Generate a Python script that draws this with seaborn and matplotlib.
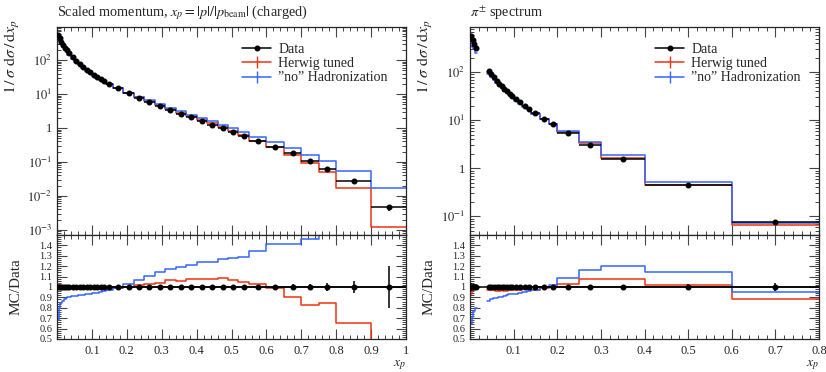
import numpy as np
import matplotlib
matplotlib.use("Agg")
import matplotlib.pyplot as plt
import matplotlib.ticker as mticker
from matplotlib.lines import Line2D
import seaborn as sns

sns.set_style("ticks")
plt.rcParams.update({'font.family': ['Liberation Serif', 'DejaVu Serif'],
                     'mathtext.fontset': 'stix', 'font.size': 10})

RED = '#EE3311'
BLUE = '#3366FF'

# ── Left panel: charged particle scaled momentum ──
ch_edges = [0.0, 0.005, 0.01, 0.015, 0.02, 0.025, 0.03, 0.04, 0.05, 0.06, 0.07, 0.08, 0.09,
            0.10, 0.11, 0.12, 0.13, 0.14, 0.16, 0.19, 0.22, 0.25, 0.28, 0.31, 0.34, 0.37,
            0.40, 0.43, 0.46, 0.49, 0.52, 0.55, 0.60, 0.65, 0.70, 0.75, 0.80, 0.90, 1.00]
ch_data = [540, 440, 350, 285, 235, 198, 158, 120, 94, 76, 62, 52, 44, 37.5, 32, 27.5, 24,
           20, 15, 10.8, 7.9, 5.9, 4.5, 3.4, 2.65, 2.05, 1.62, 1.26, 0.97, 0.76, 0.59,
           0.41, 0.27, 0.182, 0.11, 0.061, 0.0265, 0.0046]
ch_err = [0.02, 0.02, 0.02, 0.02, 0.02, 0.02, 0.02, 0.02, 0.02, 0.02, 0.02, 0.02, 0.02,
          0.02, 0.02, 0.02, 0.02, 0.02, 0.02, 0.02, 0.02, 0.02, 0.02, 0.02, 0.02, 0.02,
          0.02, 0.02, 0.02, 0.02, 0.02, 0.02, 0.02, 0.025, 0.03, 0.035, 0.06, 0.2]
ch_herwig = [1.03, 1.02, 1.01, 1.0, 0.995, 0.99, 0.99, 0.99, 0.985, 0.985, 0.985, 0.985,
             0.985, 0.985, 0.985, 0.985, 0.99, 0.99, 0.99, 1.0, 1.02, 1.025, 1.04, 1.065,
             1.06, 1.075, 1.08, 1.08, 1.09, 1.065, 1.05, 1.03, 0.995, 0.90, 0.83, 0.85,
             0.65, 0.26]
ch_nohad = [0.68, 0.80, 0.85, 0.87, 0.885, 0.89, 0.90, 0.91, 0.915, 0.92, 0.925, 0.93,
            0.935, 0.94, 0.945, 0.95, 0.96, 0.97, 0.99, 1.03, 1.07, 1.11, 1.14, 1.17,
            1.19, 1.21, 1.24, 1.245, 1.27, 1.28, 1.285, 1.35, 1.41, 1.41, 1.46, 1.75,
            1.97, 3.8]

# ── Right panel: pi+- spectrum (two groups of bins with a gap) ──
pi_edges_lo = [0.0, 0.004, 0.008, 0.012, 0.016]
pi_data_lo = [560, 470, 390, 320]
pi_err_lo = [0.04, 0.03, 0.03, 0.03]
pi_herwig_lo = [0.93, 0.96, 0.98, 0.99]
pi_nohad_lo = [0.64, 0.71, 0.77, 0.80]

pi_edges_hi = [0.04, 0.046, 0.052, 0.058, 0.064, 0.070, 0.076, 0.082, 0.088, 0.094, 0.10,
               0.11, 0.12, 0.13, 0.14, 0.16, 0.18, 0.20, 0.25, 0.30, 0.40, 0.60, 0.80]
pi_data_hi = [105, 90, 78, 67, 58, 51, 45, 40, 35.5, 31.5, 27.5, 23.5, 20, 17.5, 14, 10.7,
              8.2, 5.4, 3.1, 1.55, 0.45, 0.077]
pi_err_hi = [0.02, 0.02, 0.02, 0.02, 0.02, 0.02, 0.02, 0.02, 0.02, 0.02, 0.02, 0.02,
             0.02, 0.02, 0.02, 0.02, 0.02, 0.02, 0.02, 0.02, 0.025, 0.04]
pi_herwig_hi = [0.97, 0.97, 0.97, 0.965, 0.96, 0.97, 0.965, 0.965, 0.97, 0.97, 0.975,
                0.975, 0.98, 0.98, 0.97, 0.99, 1.0, 1.03, 1.08, 1.08, 1.02, 0.88]
pi_nohad_hi = [0.87, 0.88, 0.89, 0.895, 0.90, 0.905, 0.91, 0.92, 0.93, 0.93, 0.935,
               0.945, 0.955, 0.96, 0.97, 1.0, 1.02, 1.09, 1.16, 1.2, 1.14, 0.95]

legend_labels = ['Data', 'Herwig tuned', '\u201dno\u201d Hadronization']

W, H = 826, 372
fig = plt.figure(figsize=(W / 100, H / 100), dpi=100)


def px_axes(x0, y0, w, h):
    return fig.add_axes([x0 / W, 1 - (y0 + h) / H, w / W, h / H])


def step(ax, edges, vals, color):
    x = np.asarray(edges, dtype=float)
    y = np.append(vals, vals[-1])
    sns.lineplot(x=x, y=y, drawstyle='steps-post', color=color, lw=1.1, ax=ax,
                 estimator=None, sort=False, legend=False)


def draw_group(ax, rax, edges, data, err, herwig, nohad):
    edges = np.asarray(edges)
    data = np.asarray(data)
    err = np.asarray(err)
    cen = 0.5 * (edges[:-1] + edges[1:])
    half = 0.5 * np.diff(edges)
    step(ax, edges, data * np.asarray(herwig), RED)
    step(ax, edges, data * np.asarray(nohad), BLUE)
    ax.errorbar(cen, data, xerr=half, yerr=data * err, fmt='o', color='k', ms=3.3,
                lw=1.1, capsize=0, zorder=5)
    step(rax, edges, herwig, RED)
    step(rax, edges, nohad, BLUE)
    rax.errorbar(cen, np.ones_like(cen), xerr=half, yerr=err, fmt='o', color='k',
                 ms=3.3, lw=1.1, capsize=0, zorder=5)


def log_fmt(v, pos):
    e = int(round(np.log10(v)))
    return '1' if e == 0 else r'$10^{%d}$' % e


def style(ax, rax, xmax, ylim, ylabel_x, xticklabels):
    for a in (ax, rax):
        a.set_xlim(0, xmax)
        a.tick_params(which='both', direction='in', top=True, right=True, color='#444444')
        a.tick_params(which='major', length=7, width=0.8, labelsize=9)
        a.tick_params(which='minor', length=3, width=0.7)
        a.xaxis.set_major_locator(mticker.MultipleLocator(0.1))
        a.xaxis.set_minor_locator(mticker.MultipleLocator(0.02))
        for s in a.spines.values():
            s.set_linewidth(0.9)
            s.set_visible(True)
    ax.set_yscale('log')
    ax.set_ylim(*ylim)
    ax.yaxis.set_major_locator(mticker.LogLocator(base=10))
    ax.yaxis.set_minor_locator(mticker.LogLocator(base=10, subs=np.arange(2, 10)))
    ax.yaxis.set_major_formatter(mticker.FuncFormatter(log_fmt))
    ax.yaxis.set_minor_formatter(mticker.NullFormatter())
    ax.tick_params(labelbottom=False)
    ax.set_xlabel('')
    ax.set_ylabel(r'$1\,/\,\sigma\ \mathrm{d}\sigma\,/\,\mathrm{d}x_p$', fontsize=11.5,
                  loc='top')
    ax.yaxis.set_label_coords(ylabel_x, 1.035)

    rax.axhline(1.0, color='k', lw=1.1, zorder=4)
    rax.set_ylim(0.5, 1.5)
    rax.yaxis.set_major_locator(mticker.MultipleLocator(0.1))
    rax.yaxis.set_minor_locator(mticker.MultipleLocator(0.02))
    rax.yaxis.set_major_formatter(mticker.FuncFormatter(
        lambda v, p: '' if v > 1.45 else ('1' if abs(v - 1) < 1e-6 else '%.1f' % v)))
    rax.tick_params(axis='y', labelsize=7.5)
    rax.set_xticks(np.round(np.arange(0, xmax + 1e-6, 0.1), 2))
    rax.set_xticklabels(xticklabels)
    rax.tick_params(axis='x', pad=4)
    rax.set_ylabel('MC/Data', fontsize=11)
    rax.yaxis.set_label_coords(ylabel_x, 0.5)
    rax.set_xlabel(r'$x_p$', fontsize=10, loc='right', labelpad=1)

    handles = [Line2D([], [], color='k', marker='o', ms=3.3, lw=1.1),
               Line2D([], [], color=RED, marker='|', ms=8, mew=1.0, lw=1.1),
               Line2D([], [], color=BLUE, marker='|', ms=8, mew=1.0, lw=1.1)]
    ax.legend(handles, legend_labels, loc='upper left', bbox_to_anchor=(0.53, 0.925),
              frameon=False, fontsize=10, handlelength=2.1, handletextpad=0.5,
              labelspacing=0.1, borderpad=0, borderaxespad=0)


# left panel
ax1 = px_axes(57, 27, 349, 208)
rax1 = px_axes(57, 235, 349, 104)
draw_group(ax1, rax1, ch_edges, ch_data, ch_err, ch_herwig, ch_nohad)
style(ax1, rax1, 1.0, (7e-4, 950), -0.1,
      ['', '0.1', '0.2', '0.3', '0.4', '0.5', '0.6', '0.7', '0.8', '0.9', '1'])
fig.text(57 / W, 1 - 13 / H,
         r'Scaled momentum, $x_p = |p|/|p_\mathrm{beam}|$ (charged)',
         ha='left', va='center', fontsize=10.3)

# right panel
ax2 = px_axes(470, 27, 349, 208)
rax2 = px_axes(470, 235, 349, 104)
draw_group(ax2, rax2, pi_edges_lo, pi_data_lo, pi_err_lo, pi_herwig_lo, pi_nohad_lo)
draw_group(ax2, rax2, pi_edges_hi, pi_data_hi, pi_err_hi, pi_herwig_hi, pi_nohad_hi)
style(ax2, rax2, 0.8, (0.041, 870), -0.1,
      ['', '0.1', '0.2', '0.3', '0.4', '0.5', '0.6', '0.7', '0.8'])
fig.text(470 / W, 1 - 13 / H, r'$\pi^{\pm}$ spectrum', ha='left', va='center',
         fontsize=10.3)

fig.savefig('out.png', dpi=100)
